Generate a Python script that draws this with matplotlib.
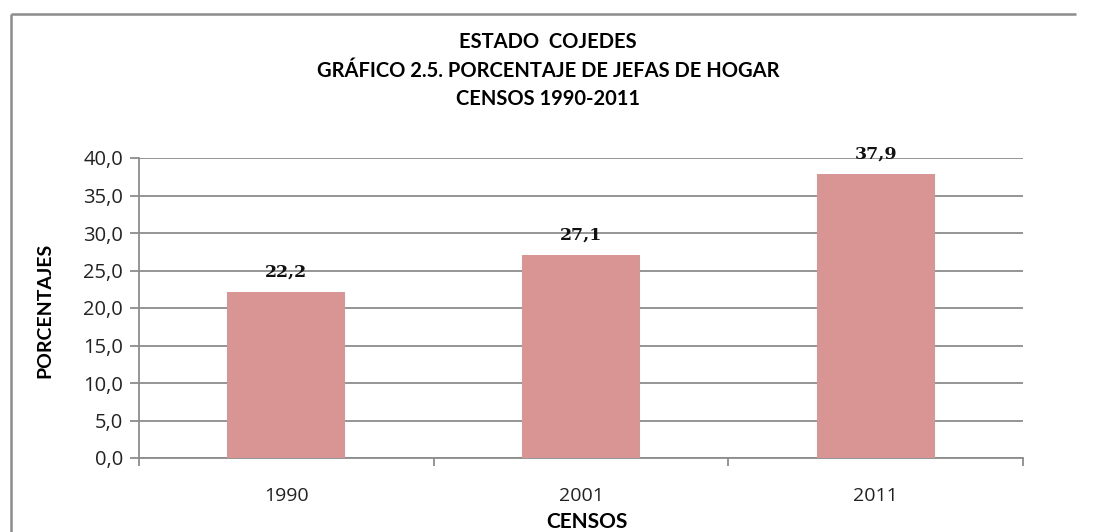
import matplotlib
matplotlib.use("Agg")
import matplotlib.pyplot as plt
from matplotlib.lines import Line2D
from matplotlib.ticker import FuncFormatter, FixedLocator

categories = ["1990", "2001", "2011"]
values = [22.2, 27.1, 37.9]
yticks = [0, 5, 10, 15, 20, 25, 30, 35, 40]

title_lines = ["ESTADO  COJEDES",
               "GRÁFICO 2.5. PORCENTAJE DE JEFAS DE HOGAR",
               "CENSOS 1990-2011"]

W, H = 1096, 532
fig = plt.figure(figsize=(W/100, H/100), dpi=100, facecolor="white", edgecolor="white", linewidth=0)

# outer frame (only left and top edges are visible in the crop)
fx, fy = 10.5/W, 1 - 13.5/H
fig.add_artist(Line2D([fx, fx], [0, fy], transform=fig.transFigure, color="#8c8c8c",
                      linewidth=1.8, solid_capstyle="butt"))
fig.add_artist(Line2D([fx, 1 - 20/W], [fy, fy], transform=fig.transFigure, color="#8c8c8c",
                      linewidth=1.8, solid_capstyle="butt"))

ax = fig.add_axes([139/W, 1-458/H, (1023-139)/W, (458-158)/H])
bar_color = "#D99594"
x = list(range(len(categories)))
ax.bar(x, values, width=0.4, color=bar_color, zorder=3)

ax.set_xlim(-0.5, len(categories) - 0.5)
ax.set_ylim(0, 40)
ax.set_yticks(yticks)
ax.yaxis.set_major_formatter(FuncFormatter(lambda v, p: f"{v:.1f}".replace(".", ",")))
ax.grid(axis="y", color="#8c8c8c", linewidth=1.3, zorder=0)
ax.set_axisbelow(True)

for s in ["top", "right"]:
    ax.spines[s].set_visible(False)
for s in ["left", "bottom"]:
    ax.spines[s].set_color("#8c8c8c")
    ax.spines[s].set_linewidth(1.3)

ax.set_xticks(x)
ax.set_xticklabels(categories, fontsize=14, family="Open Sans", color="#222222")
ax.tick_params(axis="x", which="major", length=0, pad=21)
ax.xaxis.set_minor_locator(FixedLocator([-0.5, 0.5, 1.5, 2.5]))
ax.tick_params(axis="x", which="minor", length=6, width=1.3, color="#8c8c8c", direction="out")
ax.tick_params(axis="y", length=6.5, width=1.3, color="#8c8c8c", labelsize=14.5, pad=5)
for t in ax.get_yticklabels():
    t.set_family("Open Sans")
    t.set_color("#222222")

for xi, v in zip(x, values):
    ax.annotate(f"{v:.1f}".replace(".", ","), (xi, v), xytext=(0, 11), textcoords="offset points",
                ha="center", va="baseline", fontsize=12.5, fontweight="bold",
                family="DejaVu Serif", color="#111111")

fig.text(587/W, 1-522/H, "CENSOS", ha="center", va="center", fontsize=15,
         fontweight="bold", family="Lato")
fig.text(45/W, 1-310/H, "PORCENTAJES", ha="center", va="center", rotation=90,
         fontsize=14, fontweight="bold", family="Lato")

for line, yy in zip(title_lines, [42, 71, 99]):
    fig.text(548/W, 1-yy/H, line, ha="center", va="center", fontsize=14.5,
             fontweight="bold", family="Lato")

fig.savefig("out.png", dpi=100)
